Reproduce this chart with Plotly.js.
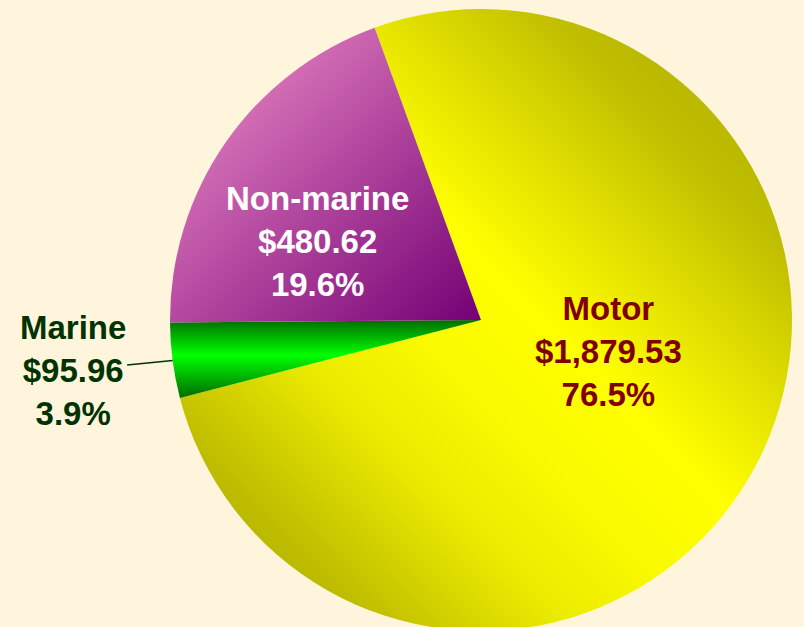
<!DOCTYPE html>
<html><head><meta charset="utf-8">
<script src="https://cdn.plot.ly/plotly-3.0.1.min.js"></script>
<style>html,body{margin:0;padding:0;overflow:hidden;background:#FFF5DC}</style>
</head><body><div id="chart" style="width:804px;height:631px"></div>
<script>
const labels = ['Motor', 'Marine', 'Non-marine'];
const premiums = [1879.53, 95.96, 480.62];
const textColors = ['#800000', '#003300', '#FFFFFF'];
const sliceColors = ['#E8E800', '#00C000', '#B050A0'];

const startAngle = -20;   // degrees clockwise from 12 o'clock
const total = premiums.reduce(function (a, b) { return a + b; }, 0);

const trace = {
  type: 'pie', labels: labels, values: premiums, sort: false,
  direction: 'clockwise', rotation: startAngle,
  marker: {colors: sliceColors, line: {width: 0}},
  textinfo: 'none',
  hoverinfo: 'none', showlegend: false
};

function labelText(i) {
  const v = premiums[i].toLocaleString('en-US', {minimumFractionDigits: 2, maximumFractionDigits: 2});
  const p = (premiums[i] / total * 100).toFixed(1) + '%';
  return '<b>' + labels[i] + '<br>$' + v + '<br>' + p + '</b>';
}

// plot area: x 170..792, y 9..631 (pixels)
const L = 170, T = 9, S = 622;
function px(x) { return (x - L) / S; }
function py(y) { return (T + S - y) / S; }

// mid-angle of Marine slice, computed from the data, for its leader line
let cum = 0;
const mids = premiums.map(function (v) { const m = cum + v / 2; cum += v; return startAngle + m / total * 360; });
const rad = mids[1] * Math.PI / 180;
const tipX = 0.5 + 0.5 * Math.sin(rad);
const tipY = 0.5 + 0.5 * Math.cos(rad);

const font = function (i) { return {family: 'Liberation Sans, Arial, sans-serif', size: 33, color: textColors[i], weight: 'bold'}; };

const layout = {
  width: 804, height: 631,
  margin: {l: L, r: 804 - L - S, t: T, b: 0},
  paper_bgcolor: '#FFF5DC', plot_bgcolor: '#FFF5DC',
  showlegend: false,
  annotations: [
    {xref: 'paper', yref: 'paper', x: px(608), y: py(352), xanchor: 'center', yanchor: 'middle',
     text: labelText(0), showarrow: false, font: font(0), align: 'center'},
    {xref: 'paper', yref: 'paper', x: px(317.5), y: py(241), xanchor: 'center', yanchor: 'middle',
     text: labelText(2), showarrow: false, font: font(2), align: 'center'},
    {xref: 'paper', yref: 'paper', x: tipX, y: tipY, text: labelText(1), showarrow: true,
     arrowhead: 0, arrowwidth: 1.5, arrowcolor: '#003300', ax: -100, ay: 10, standoff: 0,
     font: font(1), align: 'center'}
  ]
};
const gradients = [
  {id: 'gMotor', x1: 1, y1: 0, x2: 0, y2: 1, stops: [[0, '#ABA900'], [0.2, '#C0BE00'], [0.32, '#E0DE00'], [0.45, '#FFFF00'], [0.56, '#FAFA00'], [0.68, '#EBEB00'], [0.84, '#BEBC00'], [1, '#ABA900']]},
  {id: 'gMarine', x1: 0, y1: 0, x2: 0, y2: 1, stops: [[0, '#006E00'], [0.45, '#00FF00'], [1, '#006A00']]},
  {id: 'gNonMarine', x1: 0, y1: 0, x2: 1, y2: 1, stops: [[0, '#F494CC'], [1, '#740074']]}
];
Plotly.newPlot('chart', [trace], layout, {staticPlot: true}).then(function (gd) {
  const NS = 'http://www.w3.org/2000/svg';
  const svg = gd.querySelector('svg.main-svg');
  let defs = svg.querySelector('defs');
  if (!defs) { defs = document.createElementNS(NS, 'defs'); svg.insertBefore(defs, svg.firstChild); }
  gradients.forEach(function (g) {
    const lg = document.createElementNS(NS, 'linearGradient');
    lg.setAttribute('id', g.id);
    lg.setAttribute('x1', g.x1); lg.setAttribute('y1', g.y1);
    lg.setAttribute('x2', g.x2); lg.setAttribute('y2', g.y2);
    g.stops.forEach(function (s) {
      const st = document.createElementNS(NS, 'stop');
      st.setAttribute('offset', s[0]);
      st.setAttribute('stop-color', s[1]);
      lg.appendChild(st);
    });
    defs.appendChild(lg);
  });
  gd.querySelectorAll('g.slice path.surface').forEach(function (p, i) {
    p.style.fill = 'url(#' + gradients[i].id + ')';
  });
});
</script></body></html>
